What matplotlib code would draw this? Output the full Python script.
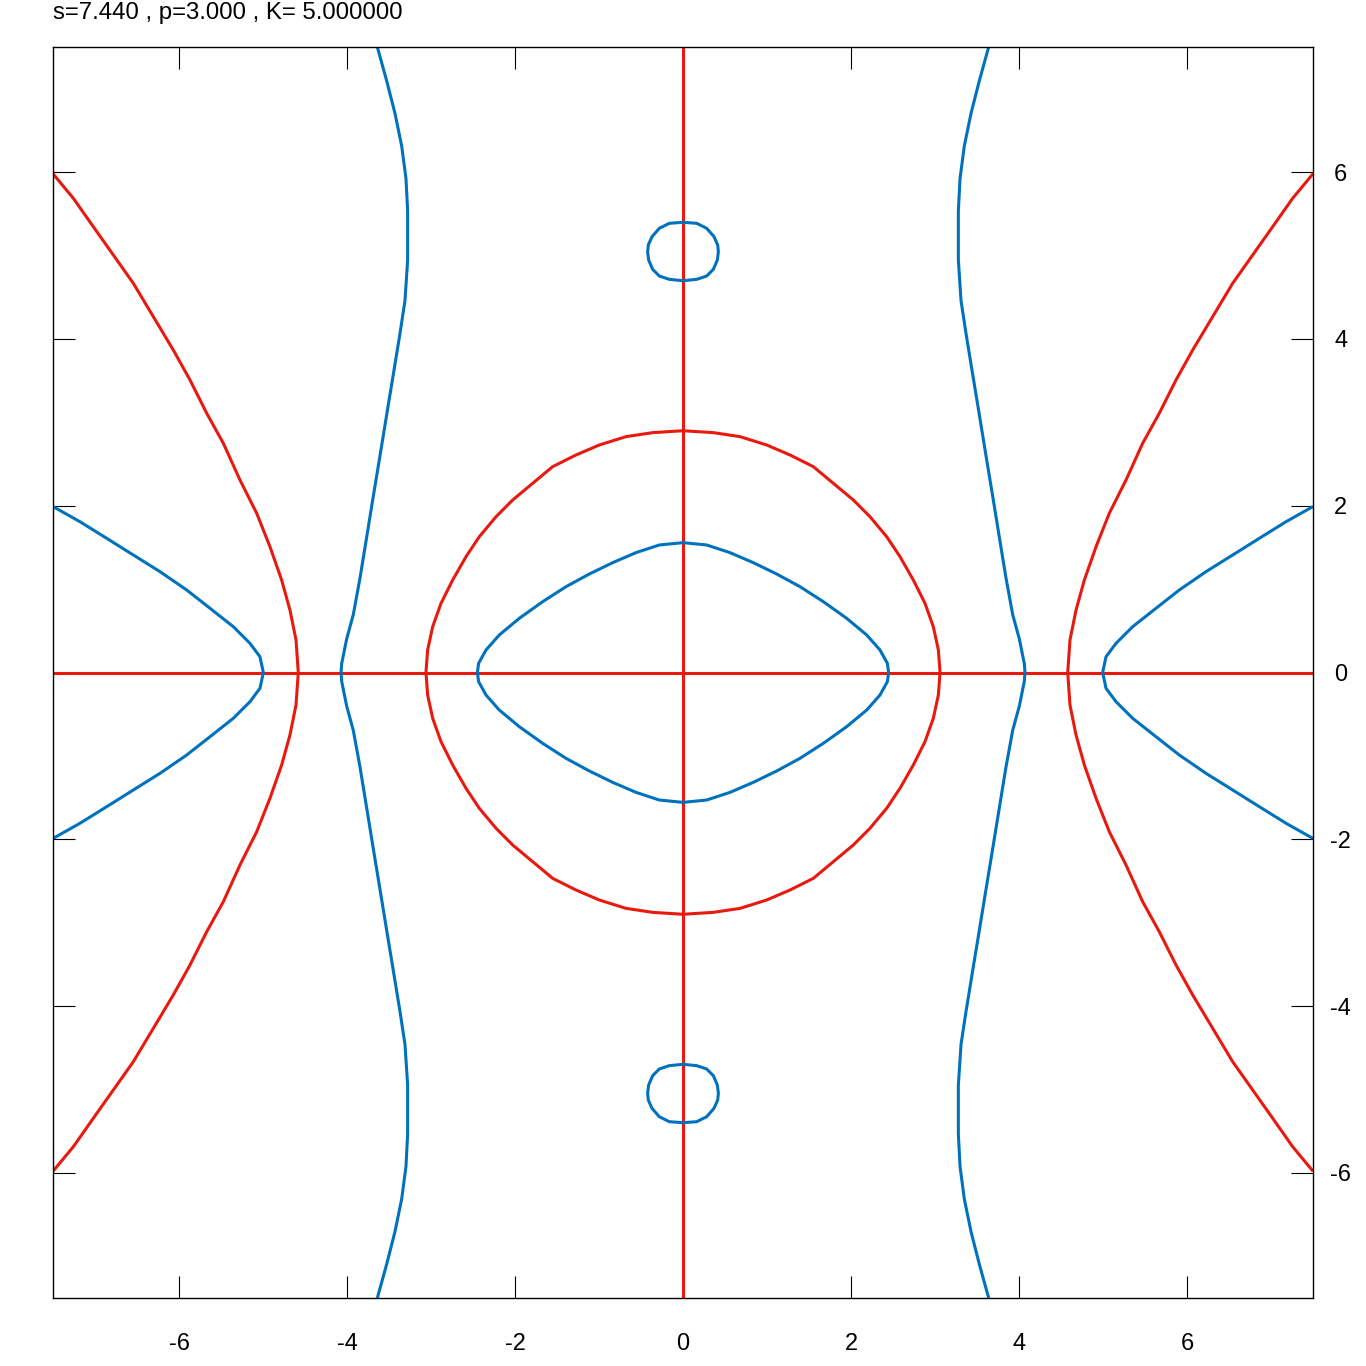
import numpy as np
import matplotlib
matplotlib.use("Agg")
import matplotlib.pyplot as plt

plt.rcParams['font.family'] = ['Liberation Sans', 'DejaVu Sans']
plt.rcParams['axes.unicode_minus'] = False

title = "s=7.440 , p=3.000 , K= 5.000000"
ticks = [-6, -4, -2, 0, 2, 4, 6]
lim = 7.5

# red closed loop, first quadrant (from y axis to x axis)
red_loop_x = [0.0, 0.361, 0.679, 0.996, 1.274, 1.552, 1.790, 2.028, 2.226, 2.425,
              2.583, 2.742, 2.881, 2.980, 3.040, 3.060]
red_loop_y = [2.899, 2.876, 2.828, 2.728, 2.608, 2.468, 2.268, 2.068, 1.868, 1.628,
              1.389, 1.109, 0.829, 0.549, 0.270, 0.0]

# blue inner loop, first quadrant
blue_loop_x = [0.0, 0.282, 0.560, 0.837, 1.115, 1.393, 1.671, 1.948, 2.187, 2.345, 2.433, 2.448]
blue_loop_y = [1.557, 1.529, 1.437, 1.317, 1.181, 1.029, 0.849, 0.650, 0.450, 0.270, 0.110, 0.0]

# small blue circle near (0, 5), right half from top to bottom
circ_x = [0.0, 0.163, 0.282, 0.369, 0.413, 0.421, 0.409, 0.361, 0.282, 0.163, 0.0]
circ_y = [5.398, 5.386, 5.326, 5.226, 5.126, 5.046, 4.946, 4.834, 4.754, 4.714, 4.698]

# left outer red branch, upper half (edge -> x axis)
red_out_x = [-7.5, -7.258, -7.020, -6.782, -6.544, -6.306, -6.068, -5.869, -5.670,
             -5.472, -5.274, -5.075, -4.917, -4.778, -4.679, -4.607, -4.580]
red_out_y = [5.98, 5.686, 5.345, 5.006, 4.667, 4.267, 3.867, 3.507, 3.108,
             2.748, 2.308, 1.909, 1.508, 1.109, 0.749, 0.390, 0.0]

# left outer blue branch, upper half
blue_out_x = [-7.5, -7.179, -6.861, -6.544, -6.226, -5.908, -5.631, -5.353, -5.155, -5.036, -4.996]
blue_out_y = [1.99, 1.808, 1.609, 1.409, 1.209, 0.989, 0.770, 0.549, 0.350, 0.189, 0.0]

# left wavy blue curve, upper half (top edge -> x axis)
blue_v_x = [-3.639, -3.528, -3.429, -3.349, -3.298, -3.278, -3.278, -3.310, -3.369, -3.448,
            -3.528, -3.607, -3.687, -3.766, -3.845, -3.925, -4.004, -4.063, -4.071]
blue_v_y = [7.5, 7.096, 6.705, 6.313, 5.923, 5.532, 4.946, 4.457, 4.066, 3.578,
            3.089, 2.601, 2.112, 1.622, 1.134, 0.694, 0.402, 0.108, 0.0]

RED = '#e8190f'
BLUE = '#0072bd'
LW = 2.2


def closed_quadrant(qx, qy):
    qx = np.array(qx)
    qy = np.array(qy)
    x = np.concatenate([qx, qx[::-1], -qx, -qx[::-1]])
    y = np.concatenate([qy, -qy[::-1], -qy, qy[::-1]])
    return x, y


def half_branch(hx, hy):
    hx = np.array(hx)
    hy = np.array(hy)
    x = np.concatenate([hx, hx[::-1]])
    y = np.concatenate([hy, -hy[::-1]])
    return x, y


fig = plt.figure(figsize=(13.66, 13.66), dpi=100)
ax = fig.add_axes([53 / 1366, 68 / 1366, 1260 / 1366, 1251 / 1366])

style = dict(lw=LW, solid_joinstyle='round', solid_capstyle='butt')

# zero lines
ax.plot([-lim, lim], [0, 0], color=RED, **style)
ax.plot([0, 0], [-lim, lim], color=RED, **style)

x, y = closed_quadrant(red_loop_x, red_loop_y)
ax.plot(x, y, color=RED, **style)
x, y = closed_quadrant(blue_loop_x, blue_loop_y)
ax.plot(x, y, color=BLUE, **style)

cx = np.concatenate([np.array(circ_x), -np.array(circ_x)[::-1]])
cy = np.concatenate([np.array(circ_y), np.array(circ_y)[::-1]])
for s in (1, -1):
    ax.plot(cx, s * cy, color=BLUE, **style)

for hx, hy, col in [(red_out_x, red_out_y, RED),
                    (blue_out_x, blue_out_y, BLUE),
                    (blue_v_x, blue_v_y, BLUE)]:
    x, y = half_branch(hx, hy)
    for s in (1, -1):
        ax.plot(s * x, y, color=col, **style)

ax.set_xlim(-lim, lim)
ax.set_ylim(-lim, lim)
ax.set_xticks(ticks)
ax.set_yticks(ticks)
ax.tick_params(axis='both', direction='in', length=16, width=0.8, labelsize=17,
               top=True, bottom=True, left=True, right=True,
               labelleft=False, labelright=True, labelbottom=True)
ax.tick_params(axis='x', pad=25)
ax.tick_params(axis='y', pad=20)
for lab in ax.get_yticklabels():
    lab.set_horizontalalignment('center')
for sp in ax.spines.values():
    sp.set_linewidth(1.0)

fig.text(53 / 1366, 1 - 13 / 1366, title, fontsize=17.3, ha='left', va='center')

fig.savefig("out.png", dpi=100)
